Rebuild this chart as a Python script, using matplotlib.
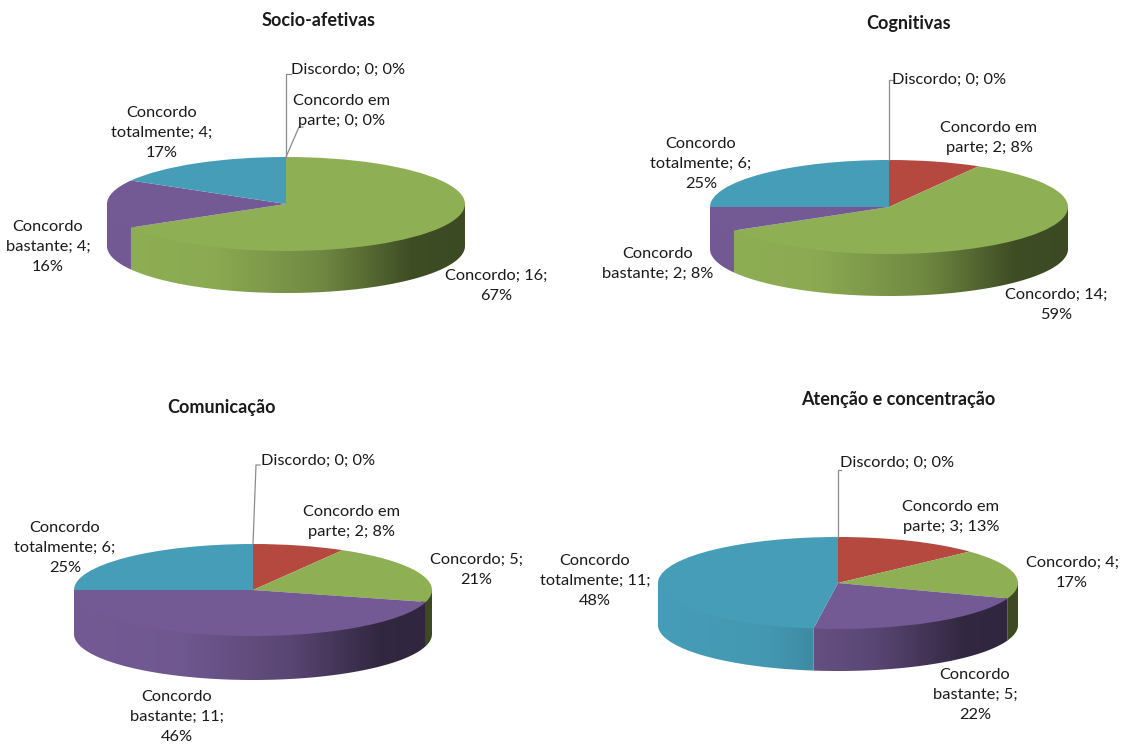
import numpy as np
import matplotlib
matplotlib.use('Agg')
import matplotlib.pyplot as plt
from matplotlib.lines import Line2D
from matplotlib.patches import Polygon

plt.rcParams['font.family'] = ['Lato', 'DejaVu Sans']

W, H = 1121, 747

# Dados: Discordo, Concordo em parte, Concordo, Concordo bastante, Concordo totalmente
socio = [0, 0, 16, 4, 4]
cognitivas = [0, 2, 14, 2, 6]
comunicacao = [0, 2, 5, 11, 6]
atencao = [0, 3, 4, 5, 11]

socio_labels = ['Discordo; 0; 0%', 'Concordo em\nparte; 0; 0%', 'Concordo; 16;\n67%',
                'Concordo\nbastante; 4;\n16%', 'Concordo\ntotalmente; 4;\n17%']
cognitivas_labels = ['Discordo; 0; 0%', 'Concordo em\nparte; 2; 8%', 'Concordo; 14;\n59%',
                     'Concordo\nbastante; 2; 8%', 'Concordo\ntotalmente; 6;\n25%']
comunicacao_labels = ['Discordo; 0; 0%', 'Concordo em\nparte; 2; 8%', 'Concordo; 5;\n21%',
                      'Concordo\nbastante; 11;\n46%', 'Concordo\ntotalmente; 6;\n25%']
atencao_labels = ['Discordo; 0; 0%', 'Concordo em\nparte; 3; 13%', 'Concordo; 4;\n17%',
                  'Concordo\nbastante; 5;\n22%', 'Concordo\ntotalmente; 11;\n48%']

colors = ['#4F81BD', '#B5483F', '#8FAF54', '#735A94', '#469DB7']


def px_text(x, y, s, **kw):
    fig.text(x / W, 1 - y / H, s, ha='center', va='center', color='#1a1a1a',
             linespacing=1.55, **kw)


def leader(xs, ys):
    fig.add_artist(Line2D([x / W for x in xs], [1 - y / H for y in ys],
                          color='#8c8c8c', lw=0.9, transform=fig.transFigure))


def shade_strip(color):
    # lateral escurece da esquerda para a direita
    t = np.linspace(0, 1, 400)
    f = np.interp(t, [0, 0.3, 0.6, 0.85, 1], [1.0, 0.97, 0.78, 0.44, 0.42])
    return f[None, :, None] * np.array(matplotlib.colors.to_rgb(color))[None, None, :]


def pie3d(values, cx, cy, rx, ry, depth):
    ax = fig.add_axes([(cx - rx) / W, 1 - (cy + ry + depth) / H,
                       2 * rx / W, (2 * ry + depth) / H])
    d = depth / ry
    total = sum(values)
    edges = np.cumsum([0] + values) / total * 2 * np.pi
    for i, c in enumerate(colors):
        a0 = max(edges[i], np.pi / 2)
        a1 = min(edges[i + 1], 3 * np.pi / 2)
        if a1 <= a0:
            continue
        a = np.linspace(a0, a1, 120)
        # o contorno entra um pouco sob o topo para nao deixar fresta branca
        xs = np.r_[np.sin(a), np.sin(a1), 0.97 * np.sin(a[::-1]), np.sin(a0)]
        ys = np.r_[np.cos(a) - d, np.cos(a1), 0.97 * np.cos(a[::-1]), np.cos(a0)]
        im = ax.imshow(shade_strip(c), extent=(-1, 1, -1 - d, 1), aspect='auto',
                       interpolation='bilinear', zorder=1)
        poly = Polygon(np.c_[xs, ys], closed=True, transform=ax.transData,
                       facecolor='none', edgecolor='none')
        ax.add_patch(poly)
        im.set_clip_path(poly)
    wedges, _ = ax.pie(values, colors=colors, startangle=90, counterclock=False, radius=1)
    for w in wedges:
        w.set_clip_on(False)
        w.set_zorder(3)
    ax.set_aspect('auto')
    ax.set_xlim(-1, 1)
    ax.set_ylim(-1 - d, 1)
    ax.axis('off')


fig = plt.figure(figsize=(W / 100, H / 100), dpi=100, facecolor='white')

pie3d(socio, 286, 204, 179, 47, 42)
pie3d(cognitivas, 889, 207, 179, 47, 42)
pie3d(comunicacao, 253, 590, 179, 46, 44)
pie3d(atencao, 838, 583, 180, 46, 42)

# linhas de chamada
leader([286, 286, 291], [157, 74, 74])
leader([286, 299, 303], [157, 127, 127])
leader([889, 889, 893], [160, 80, 80])
leader([253, 256, 260], [544, 465, 465])
leader([838, 838, 841], [537, 470, 470])

fs = 11.8
tfs = 13

px_text(319, 21, 'Socio-afetivas', fontsize=tfs, fontweight='bold')
for (x, y), s in zip([(348, 70), (342, 111), (496, 286), (48, 247), (162, 133)], socio_labels):
    px_text(x, y, s, fontsize=fs)

px_text(909, 24, 'Cognitivas', fontsize=tfs, fontweight='bold')
for (x, y), s in zip([(949, 80), (989, 138), (1056, 305), (658, 264), (701, 164)], cognitivas_labels):
    px_text(x, y, s, fontsize=fs)

px_text(221, 407, 'Comunicação', fontsize=tfs, fontweight='bold')
for (x, y), s in zip([(318, 461), (352, 522), (476, 570), (177, 717), (65, 548)], comunicacao_labels):
    px_text(x, y, s, fontsize=fs)

px_text(898, 399, 'Atenção e concentração', fontsize=tfs, fontweight='bold')
for (x, y), s in zip([(897, 463), (951, 517), (1072, 573), (975, 695), (595, 581)], atencao_labels):
    px_text(x, y, s, fontsize=fs)

fig.savefig('out.png', dpi=100, facecolor='white')
